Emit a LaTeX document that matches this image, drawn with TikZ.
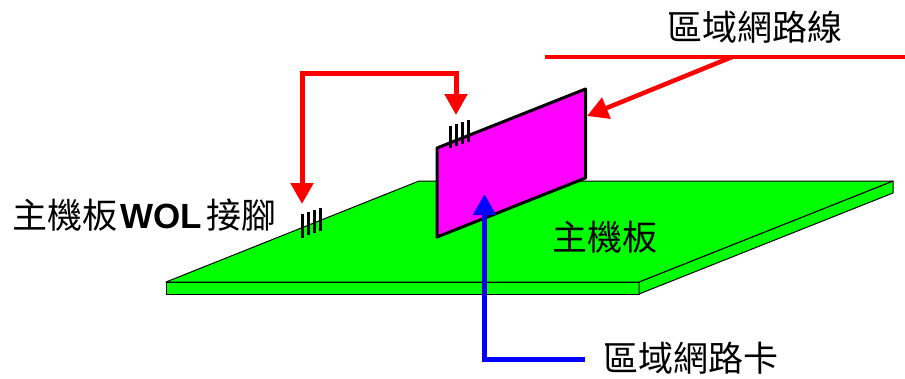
\documentclass[tikz,border=0pt]{standalone}
\usepackage{fontspec}
\setmainfont{Liberation Sans}
\newfontfamily\cjk{Noto Sans CJK TC}
\newfontfamily\wolfont{Liberation Sans Bold}
\usetikzlibrary{arrows.meta}
\definecolor{cardpink}{RGB}{255,0,255}
\definecolor{boardgreen}{RGB}{0,255,0}
\tikzset{
  board/.style={draw=black,line width=1pt,fill=boardgreen,line join=round},
  cardface/.style={draw=black,line width=3pt,fill=cardpink,line join=round},
  pinmark/.style={draw=black,line width=3pt},
  redarrow/.style={draw=red,line width=5pt,-{Triangle[length=21pt,width=22pt]}},
  bluearrow/.style={draw=blue,line width=5pt,-{Triangle[length=21pt,width=22pt]}},
  lanwire/.style={draw=red,line width=4.5pt},
  label/.style={inner sep=0pt,anchor=center,font=\cjk\fontsize{35}{38}\selectfont,text=black}
}
\begin{document}
\begin{tikzpicture}[x=1pt,y=-1pt]
\useasboundingbox (0,0) rectangle (905,378);
% board
\coordinate (bA) at (166,282);
\coordinate (bB) at (419,181);
\coordinate (bC) at (893,181);
\coordinate (bD) at (639,282);
\coordinate (bE) at (166,294);
\coordinate (bF) at (639,294);
\coordinate (bG) at (893,193);
\draw[board] (bA) -- (bD) -- (bF) -- (bE) -- cycle;
\draw[board] (bD) -- (bC) -- (bG) -- (bF) -- cycle;
\draw[board] (bA) -- (bB) -- (bC) -- (bD) -- cycle;
% board pins
\foreach \n/\x/\t/\b in {1/302/213.5/237.5,2/308/211.5/235,3/314/209.5/232.5,4/320/208/230.5}
  \draw[pinmark] (\x,\t) -- (\x,\b);
% card
\draw[cardface] (437,148) -- (585.5,89) -- (585.5,178) -- (437,237) -- cycle;
% card pins
\foreach \n/\x/\t/\b in {1/450/125.5/147.5,2/456/123.5/145.5,3/462/121.5/143.5,4/468/119.5/141.5}
  \draw[pinmark] (\x,\t) -- (\x,\b);
% wire
\coordinate (wireL) at (545,57);
\coordinate (wireR) at (905,57);
\coordinate (wireTap) at (732,57);
\coordinate (cardEdge) at (587,116);
\draw[lanwire] (wireL) -- (wireR);
\draw[draw=red,line width=4.5pt,-{Triangle[length=21pt,width=22pt]}] (wireTap) -- (cardEdge);
% WOL cable
\coordinate (cardPin) at (456,115);
\coordinate (boardPin) at (302,204);
\draw[redarrow] (cardPin) ++(0,-42) -- (cardPin);
\draw[redarrow] (cardPin) ++(2.5,-42) -- ++(-156.5,0) -- (boardPin);
% labels
\node[label] (wireLabel) at (755,27) {區域網路線};
\node[label] (boardLabel) at (604.5,237) {主機板};
\node[label] (cardLabel) at (690.5,358) {區域網路卡};
\node[label,anchor=west] (wolLabel) at (12,215) {主機板\hspace{3pt}{\wolfont WOL}\hspace{5pt}接腳};
% card arrow
\coordinate (cardBottom) at (484.5,194);
\coordinate (cardTurn) at (484.5,359);
\draw[bluearrow] (cardLabel.west) ++(-18,1) -- (cardTurn) -- (cardBottom);
\end{tikzpicture}
\end{document}
